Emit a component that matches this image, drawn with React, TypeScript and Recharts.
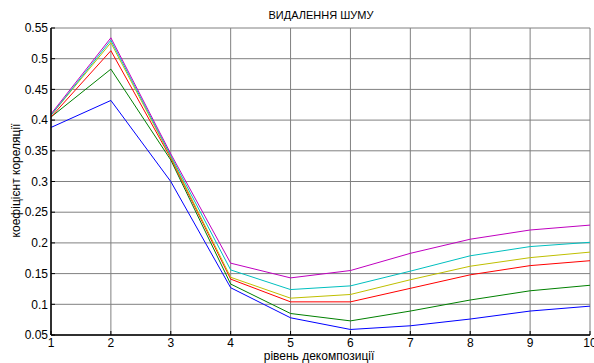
import React from 'react';
import { LineChart, Line, XAxis, YAxis, CartesianGrid } from 'recharts';

const levels = [1, 2, 3, 4, 5, 6, 7, 8, 9, 10];
const blueSeries = [0.388, 0.432, 0.3, 0.127, 0.078, 0.059, 0.065, 0.076, 0.089, 0.097];
const greenSeries = [0.405, 0.483, 0.335, 0.133, 0.085, 0.073, 0.089, 0.107, 0.122, 0.131];
const redSeries = [0.405, 0.513, 0.338, 0.141, 0.104, 0.104, 0.126, 0.148, 0.163, 0.171];
const yellowSeries = [0.408, 0.526, 0.34, 0.144, 0.11, 0.116, 0.14, 0.162, 0.176, 0.185];
const cyanSeries = [0.408, 0.53, 0.342, 0.156, 0.124, 0.13, 0.154, 0.179, 0.194, 0.201];
const magentaSeries = [0.41, 0.534, 0.345, 0.167, 0.143, 0.155, 0.183, 0.206, 0.221, 0.229];
const xTicks = [1, 2, 3, 4, 5, 6, 7, 8, 9, 10];
const yTicks = [0.05, 0.1, 0.15, 0.2, 0.25, 0.3, 0.35, 0.4, 0.45, 0.5, 0.55];

const title = 'ВИДАЛЕННЯ ШУМУ';
const xLabel = 'рівень декомпозиції';
const yLabel = 'коефіцієнт кореляції';

const series = [
  { key: 'blue', values: blueSeries, color: '#0000ff' },
  { key: 'green', values: greenSeries, color: '#008000' },
  { key: 'red', values: redSeries, color: '#ff0000' },
  { key: 'yellow', values: yellowSeries, color: '#bfbf00' },
  { key: 'cyan', values: cyanSeries, color: '#00bfbf' },
  { key: 'magenta', values: magentaSeries, color: '#bf00bf' },
];

const data = levels.map((lv, i) => {
  const row: any = { x: lv };
  series.forEach((s) => (row[s.key] = s.values[i]));
  return row;
});

const FONT = '"Liberation Sans", Arial, Helvetica, sans-serif';
const fmt = (v: number) => String(Number(v.toFixed(2)));

const BottomTick = (props: any) => {
  const { x, y, payload } = props;
  return (
    <g>
      <line x1={x} y1={y} x2={x} y2={y - 4} stroke="#000" strokeWidth={1} />
      <text x={x} y={y + 3} dy="0.71em" textAnchor="middle" fontSize={12} fontFamily={FONT} fill="#000">
        {payload.value}
      </text>
    </g>
  );
};

const TopTick = (props: any) => {
  const { x, y } = props;
  return <line x1={x} y1={y} x2={x} y2={y + 4} stroke="#000" strokeWidth={1} />;
};

const LeftTick = (props: any) => {
  const { x, y, payload } = props;
  return (
    <g>
      <line x1={x} y1={y} x2={x + 4} y2={y} stroke="#000" strokeWidth={1} />
      <text x={x - 3} y={y} dy="0.355em" textAnchor="end" fontSize={12} fontFamily={FONT} fill="#000">
        {fmt(payload.value)}
      </text>
    </g>
  );
};

const RightTick = (props: any) => {
  const { x, y } = props;
  return <line x1={x} y1={y} x2={x - 4} y2={y} stroke="#000" strokeWidth={1} />;
};

export default function App() {
  return (
    <div style={{ position: 'absolute', left: 0, top: 0, width: 594, height: 363, background: '#fff', fontFamily: FONT }}>
      <LineChart width={594} height={363} data={data} margin={{ top: 28, right: 4, bottom: 0, left: 0 }}>
        <CartesianGrid stroke="#808080" strokeWidth={1} />
        <XAxis
          dataKey="x"
          type="number"
          domain={[1, 10]}
          ticks={xTicks}
          height={28}
          tickSize={0}
          tickMargin={0}
          tick={<BottomTick />}
          axisLine={{ stroke: '#000', strokeWidth: 1.5 }}
          tickLine={false}
          interval={0}
        />
        <XAxis
          xAxisId="top"
          orientation="top"
          dataKey="x"
          type="number"
          domain={[1, 10]}
          ticks={xTicks}
          height={0}
          tickSize={0}
          tickMargin={0}
          tick={<TopTick />}
          axisLine={{ stroke: '#000', strokeWidth: 1.5 }}
          tickLine={false}
          interval={0}
        />
        <YAxis
          type="number"
          domain={[0.05, 0.55]}
          ticks={yTicks}
          width={51}
          tickSize={0}
          tickMargin={0}
          tick={<LeftTick />}
          axisLine={{ stroke: '#000', strokeWidth: 1.5 }}
          tickLine={false}
          interval={0}
          allowDataOverflow
        />
        <YAxis
          yAxisId="right"
          orientation="right"
          type="number"
          domain={[0.05, 0.55]}
          ticks={yTicks}
          width={0}
          tickSize={0}
          tickMargin={0}
          tick={<RightTick />}
          axisLine={{ stroke: '#000', strokeWidth: 1.5 }}
          tickLine={false}
          interval={0}
          allowDataOverflow
        />
        {series.map((s) => (
          <Line
            key={s.key}
            dataKey={s.key}
            stroke={s.color}
            strokeWidth={1}
            dot={false}
            activeDot={false}
            isAnimationActive={false}
            type="linear"
          />
        ))}
      </LineChart>
      <div style={{ position: 'absolute', left: 221, top: 9, width: 200, textAlign: 'center', fontSize: 11, lineHeight: '13px', color: '#000' }}>
        {title}
      </div>
      <div style={{ position: 'absolute', left: 219, top: 350, width: 200, textAlign: 'center', fontSize: 12, lineHeight: '13px', color: '#000' }}>
        {xLabel}
      </div>
      <div
        style={{
          position: 'absolute',
          left: 16 - 100,
          top: 181 - 7,
          width: 200,
          textAlign: 'center',
          fontSize: 12,
          lineHeight: '13px',
          color: '#000',
          transform: 'rotate(-90deg)',
        }}
      >
        {yLabel}
      </div>
    </div>
  );
}
